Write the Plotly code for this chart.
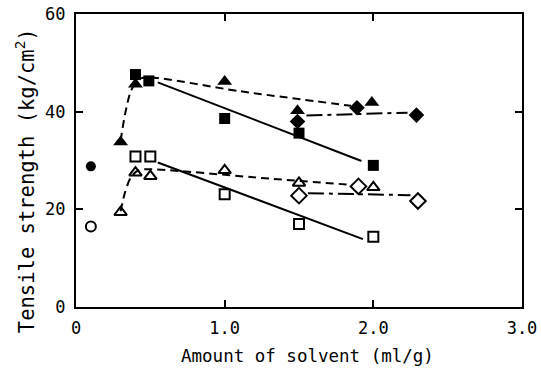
import plotly.graph_objects as go

# ---- data ----
circle_filled_x = [0.10]
circle_filled_y = [28.8]
circle_open_x = [0.10]
circle_open_y = [16.5]

sq_filled_x = [0.40, 0.49, 1.00, 1.50, 2.00]
sq_filled_y = [47.6, 46.3, 38.6, 35.6, 29.0]
sq_open_x = [0.40, 0.50, 1.00, 1.50, 2.00]
sq_open_y = [30.8, 30.8, 23.1, 17.0, 14.4]

tri_filled_x = [0.30, 0.40, 1.00, 1.49, 1.99]
tri_filled_y = [33.8, 45.6, 46.2, 40.2, 41.9]
tri_open_x = [0.30, 0.40, 0.50, 1.00, 1.50, 2.00]
tri_open_y = [19.4, 27.5, 26.8, 28.0, 25.4, 24.5]

dia_filled_x = [1.49, 1.89, 2.29]
dia_filled_y = [38.0, 40.8, 39.3]
dia_open_x = [1.50, 1.90, 2.30]
dia_open_y = [22.8, 24.7, 21.7]

# fitted curves drawn in the reference
fit_tri_filled_x = [0.30, 0.33, 0.37, 0.42, 0.50, 1.10, 1.85]
fit_tri_filled_y = [34.0, 39.5, 44.3, 46.6, 47.0, 44.2, 41.2]
fit_tri_open_x = [0.30, 0.33, 0.37, 0.42, 0.50, 1.30, 1.86]
fit_tri_open_y = [19.6, 23.5, 26.6, 28.0, 28.2, 26.3, 25.0]
fit_sq_filled_x = [0.55, 1.92]
fit_sq_filled_y = [46.0, 29.9]
fit_sq_open_x = [0.55, 1.93]
fit_sq_open_y = [29.6, 13.9]
fit_dia_filled_x = [1.55, 2.23]
fit_dia_filled_y = [39.2, 39.8]
fit_dia_open_x = [1.56, 2.25]
fit_dia_open_y = [23.3, 22.9]

x_tickvals = [0, 1, 2, 3]
x_ticktext = ["0", "1.0", "2.0", "3.0"]
y_tickvals = [0, 20, 40, 60]
y_ticktext = ["0", "20", "40", "60"]
x_title = "Amount of solvent (ml/g)"
y_title = "Tensile strength (kg/cm<sup>2</sup>)"

FONT = "DejaVu Sans Mono"
fig = go.Figure()

def line(x, y, dash, shape="linear"):
    fig.add_trace(go.Scatter(x=x, y=y, mode="lines", showlegend=False, hoverinfo="skip",
                             line=dict(color="black", width=2, dash=dash, shape=shape, smoothing=0.8)))

line(fit_tri_filled_x, fit_tri_filled_y, "8px,5px", "spline")
line(fit_tri_open_x, fit_tri_open_y, "8px,5px", "spline")
line(fit_sq_filled_x, fit_sq_filled_y, "solid")
line(fit_sq_open_x, fit_sq_open_y, "solid")
line(fit_dia_filled_x, fit_dia_filled_y, "16px,5px,4px,5px")
line(fit_dia_open_x, fit_dia_open_y, "16px,5px,4px,5px")

def pts(x, y, symbol, size, lw=0):
    fig.add_trace(go.Scatter(x=x, y=y, mode="markers", showlegend=False,
                             marker=dict(symbol=symbol, size=size, color="black",
                                         line=dict(color="black", width=lw))))

pts(circle_filled_x, circle_filled_y, "circle", 10)
pts(circle_open_x, circle_open_y, "circle-open", 10, 2)
pts(sq_filled_x, sq_filled_y, "square", 11)
pts(sq_open_x, sq_open_y, "square-open", 10, 2)
pts(tri_filled_x, tri_filled_y, "triangle-up", 13)
pts(tri_open_x, tri_open_y, "triangle-up-open", 11, 2)
pts(dia_filled_x, dia_filled_y, "diamond", 12)
pts(dia_open_x, dia_open_y, "diamond-open", 12, 2)

axis_common = dict(showline=True, linecolor="black", linewidth=2, mirror="ticks",
                   ticks="inside", ticklen=7, tickwidth=2, tickcolor="black",
                   showgrid=False, zeroline=False, automargin=False,
                   ticklabelstandoff=5,
                   tickfont=dict(family=FONT, size=17, color="black"))

fig.update_layout(
    width=541, height=371,
    margin=dict(l=76, r=19, t=14, b=64),
    paper_bgcolor="white", plot_bgcolor="white",
    xaxis=dict(range=[0, 3], tickvals=x_tickvals, ticktext=x_ticktext, **axis_common),
    yaxis=dict(range=[0, 60], tickvals=y_tickvals, ticktext=y_ticktext, **axis_common),
    annotations=[
        dict(text=x_title, xref="paper", yref="paper", x=0.519, y=-0.167,
             xanchor="center", yanchor="middle", showarrow=False,
             font=dict(family=FONT, size=17.5, color="black")),
        dict(text=y_title, xref="paper", yref="paper", x=-0.114, y=0.43,
             xanchor="center", yanchor="middle", showarrow=False, textangle=-90,
             font=dict(family=FONT, size=20.5, color="black")),
    ],
)

fig.write_html("out.html")
